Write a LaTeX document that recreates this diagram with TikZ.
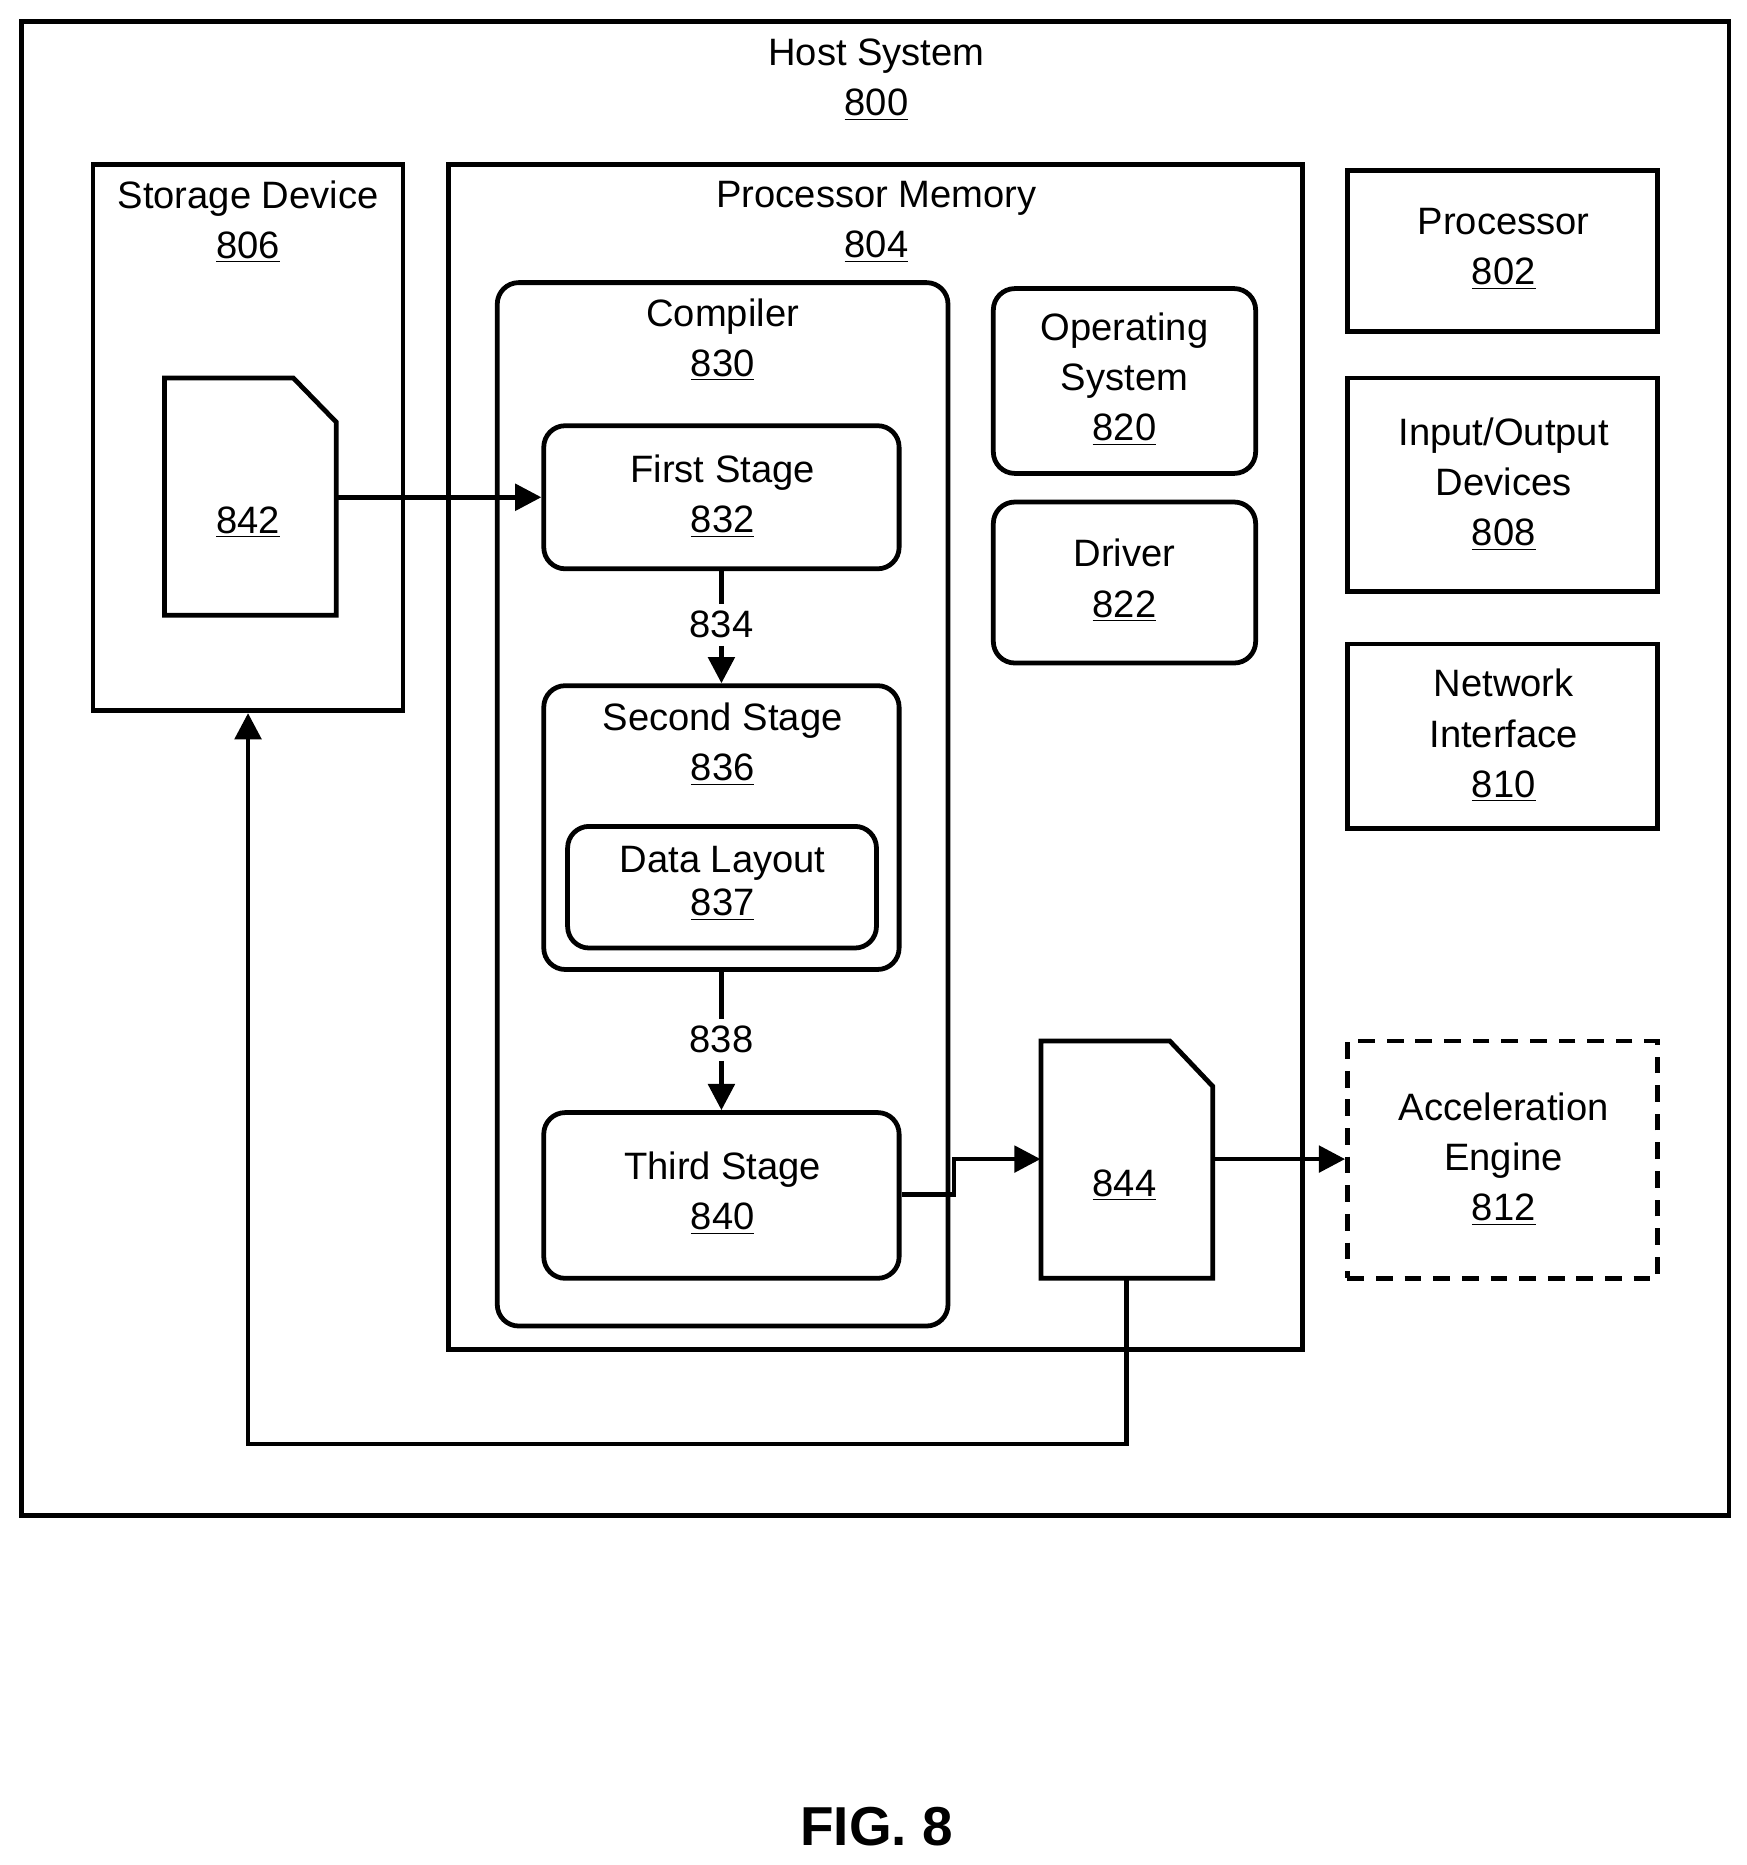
\documentclass[tikz,border=0pt]{standalone}
\usepackage{fontspec}
\setmainfont{Liberation Sans}
\usetikzlibrary{fit,arrows.meta}
\begin{document}
\begin{tikzpicture}[x=0.5pt,y=-0.5pt,
  box/.style={draw,line width=2pt,inner sep=0pt},
  rbox/.style={box,rounded corners=9pt},
  dbox/.style={box,dash pattern=on 7pt off 5pt},
  ghost/.style={inner sep=0pt},
  txt/.style={align=center,font=\fontsize{16}{21}\selectfont,inner sep=0pt},
  ln/.style={line width=2pt},
  arr/.style={ln,-{Triangle[length=11pt,width=11pt]}}]
\useasboundingbox (0,0) rectangle (1465,1564);
\node[box,fit={(18,18)(1450,1271)}] (host) {};
\node[txt] at (735,67) {Host System\\\underline{800}};
\node[box,fit={(78,138)(338,596)}] (stor) {};
\node[txt] at (208,186) {Storage Device\\\underline{806}};
\node[box,fit={(376,138)(1092,1132)}] (pmem) {};
\node[txt] at (735,186) {Processor Memory\\\underline{804}};
\node[rbox,fit={(417,237)(795,1112)}] (comp) {};
\node[txt] at (606,285) {Compiler\\\underline{830}};
\node[rbox,fit={(456,357)(754,477)}] (first) {};
\node[txt] at (606,416) {First Stage\\\underline{832}};
\node[rbox,fit={(456,575)(754,813)}] (second) {};
\node[txt] at (606,624) {Second Stage\\\underline{836}};
\node[rbox,fit={(476,693)(735,795)}] (layout) {};
\node[txt,font=\fontsize{16}{18}\selectfont] at (606,741) {Data Layout\\\underline{837}};
\node[rbox,fit={(456,933)(754,1072)}] (third) {};
\node[txt] at (606,1001) {Third Stage\\\underline{840}};
\node[rbox,fit={(833,242)(1053,397)}] (os) {};
\node[txt] at (943,318) {Operating\\System\\\underline{820}};
\node[rbox,fit={(833,421)(1053,556)}] (drv) {};
\node[txt] at (943,487) {Driver\\\underline{822}};
\node[box,fit={(1130,143)(1390,278)}] (proc) {};
\node[txt] at (1261,209) {Processor\\\underline{802}};
\node[box,fit={(1130,317)(1390,496)}] (io) {};
\node[txt] at (1261,406) {Input/Output\\Devices\\\underline{808}};
\node[box,fit={(1130,540)(1390,695)}] (net) {};
\node[txt] at (1261,617) {Network\\Interface\\\underline{810}};
\node[dbox,fit={(1130,873)(1390,1072)}] (acc) {};
\node[txt] at (1261,972) {Acceleration\\Engine\\\underline{812}};
% documents
\node[ghost,fit={(138,317)(282,516)}] (d842) {};
\draw[ln,line join=miter] (138,317) -- (246,317) -- (282,354) -- (282,516) -- (138,516) -- cycle;
\node[txt] at (208,438) {\underline{842}};
\node[ghost,fit={(873,873)(1017,1072)}] (d844) {};
\draw[ln,line join=miter] (873,873) -- (981,873) -- (1017,911) -- (1017,1072) -- (873,1072) -- cycle;
\node[txt] at (943,994) {\underline{844}};
% connectors
\draw[arr] (d842.east |- 0,417) -- (first.west |- 0,417);
\node[txt,fill=white,inner sep=3pt] (l834) at (605,524) {834};
\draw[ln] (first.south -| 605,0) -- (l834.north);
\draw[arr] (l834.south) -- (second.north -| 605,0);
\node[txt,fill=white,inner sep=3pt] (l838) at (605,872) {838};
\draw[ln] (second.south -| 605,0) -- (l838.north);
\draw[arr] (l838.south) -- (third.north -| 605,0);
\draw[arr] (third.east |- 0,1002) -- (800,1002) -- (800,972) -- (d844.west |- 0,972);
\draw[arr] (d844.east |- 0,972) -- (acc.west |- 0,972);
\draw[arr] (d844.south -| 945,0) -- (945,1211) -- (208,1211) -- (stor.south -| 208,0);
\node[font=\fontsize{23}{26}\selectfont\bfseries] (fig) at (735,1532) {FIG. 8};
\end{tikzpicture}
\end{document}
